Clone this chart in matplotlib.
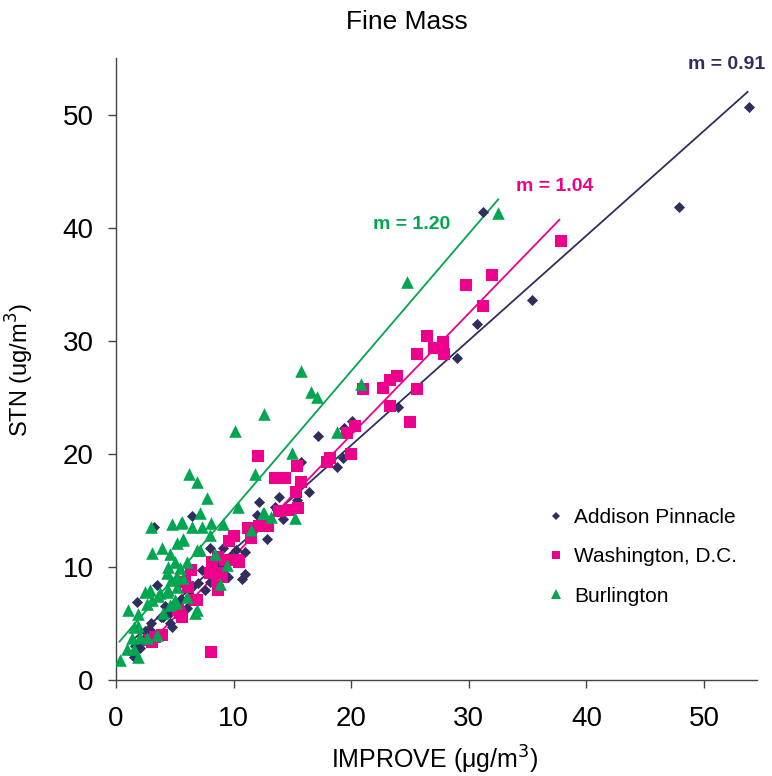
import numpy as np
import matplotlib
matplotlib.use('Agg')
import matplotlib.pyplot as plt

# site data (IMPROVE x, STN y)
addison_x = [53.8, 47.9, 35.4, 31.2, 30.7, 29.0, 24.0,
             20.1, 19.4, 17.2, 19.3, 18.8, 15.7, 16.4, 15.4, 13.9, 13.5, 14.2,
             12.2, 12.0, 13.7, 12.8, 6.5, 8.0, 9.1, 11.0,
             3.2, 11.0, 10.7, 9.5, 8.0, 7.3, 7.6, 3.5, 1.8, 6.0, 4.6, 4.8, 1.5, 2.0,
             5.4, 4.2, 2.9, 4.6,
             3.0, 3.8, 5.0, 5.5, 6.5, 7.0, 8.5, 9.0, 9.8, 10.2, 2.5, 4.0, 6.3, 1.6, 2.3]
addison_y = [50.7, 41.8, 33.6, 41.4, 31.5, 28.5, 24.1,
             22.9, 22.3, 21.6, 19.6, 18.8, 19.3, 16.6, 15.9, 16.2, 15.3, 14.2,
             15.7, 14.6, 15.0, 12.5, 14.5, 11.7, 11.7, 11.3,
             13.5, 9.4, 8.9, 9.1, 8.7, 9.7, 8.0, 8.4, 6.9, 6.4, 5.0, 4.7, 2.0, 2.8,
             8.6, 6.5, 4.4, 5.9,
             5.0, 5.6, 6.8, 7.2, 8.2, 8.6, 10.0, 10.3, 11.0, 11.5, 4.3, 5.6, 7.5, 3.0, 3.5]

washington_x = [37.8, 32.0, 29.8, 31.2, 26.4, 27.8, 27.0, 27.9, 25.6, 23.9, 23.3, 22.7, 25.6, 23.3, 25.0,
                21.0, 20.3, 19.6, 20.0, 17.9, 18.2, 15.4, 12.1, 13.5, 14.4, 15.7, 15.3, 15.5, 14.8, 13.9,
                12.9, 12.2, 11.2, 11.5, 10.0, 9.6,
                8.2, 10.3, 8.0, 9.0, 8.6, 6.4, 5.9, 6.7, 5.3, 5.4, 3.9, 2.9, 8.1,
                8.7, 9.3, 10.5, 8.8, 8.7, 6.1, 5.6, 3.1, 3.3, 6.9]
washington_y = [38.8, 35.8, 34.9, 33.1, 30.4, 29.9, 29.4, 28.8, 28.8, 26.9, 26.5, 25.8, 25.7, 24.2, 22.8,
                25.7, 22.5, 21.8, 20.0, 19.3, 19.6, 18.9, 19.8, 17.9, 17.9, 17.5, 16.6, 15.2, 15.0, 14.9,
                13.6, 13.6, 13.4, 12.6, 12.7, 12.3,
                10.4, 10.6, 9.5, 9.1, 8.8, 9.7, 8.7, 7.1, 6.2, 5.9, 4.0, 3.5, 2.5,
                10.9, 10.6, 10.4, 9.5, 8.0, 8.2, 5.6, 3.4, 3.8, 7.1]

burlington_x = [32.5, 24.7, 20.8, 15.7, 16.6, 17.1, 12.6, 10.1, 18.8, 15.0, 11.8, 6.2, 6.9, 7.7, 10.4,
                7.1, 8.1, 9.1, 6.5, 7.3, 5.6, 5.7, 8.0, 12.6, 15.2, 11.5, 12.5, 13.2,
                3.0, 4.8, 5.5, 3.9, 5.2, 5.7, 3.1, 4.6, 5.0, 6.0, 6.9, 4.3, 4.4, 5.4, 5.7, 4.7, 5.2,
                2.5, 2.9, 3.1, 3.6, 4.3, 5.0, 4.6, 1.0, 1.9, 6.7, 8.8, 9.4, 8.4, 1.5, 1.4, 0.9, 0.3,
                1.9, 3.5, 2.0, 2.6, 2.6, 3.7, 4.4, 5.2, 4.0, 5.1, 6.0, 1.9, 1.5, 7.1, 6.9]
burlington_y = [41.3, 35.2, 26.2, 27.3, 25.5, 25.0, 23.5, 22.0, 21.9, 20.1, 18.2, 18.2, 17.5, 16.1, 15.3,
                14.8, 13.9, 13.8, 13.5, 13.5, 14.0, 12.5, 12.8, 14.8, 14.3, 13.3, 14.8, 14.4,
                13.5, 13.8, 13.9, 11.7, 12.1, 12.4, 11.2, 11.1, 10.4, 10.4, 11.5, 9.5, 10.0, 9.9, 9.0, 8.8, 9.1,
                7.8, 8.0, 7.1, 7.4, 7.8, 7.1, 6.6, 6.2, 5.8, 5.9, 8.5, 10.2, 11.1, 4.7, 3.7, 2.7, 1.8,
                2.0, 4.0, 3.8, 3.7, 6.7, 7.7, 8.0, 8.2, 5.9, 6.8, 7.3, 4.8, 2.7, 11.5, 6.2]

# trend line endpoints (x range) and fitted y at those ends
addison_fit_x = [1.6, 53.7]
addison_fit_y = [3.7, 52.0]
washington_fit_x = [2.9, 37.7]
washington_fit_y = [3.3, 40.7]
burlington_fit_x = [0.3, 32.5]
burlington_fit_y = [3.4, 42.5]

slope_labels = ['m = 0.91', 'm = 1.04', 'm = 1.20']
site_names = ['Addison Pinnacle', 'Washington, D.C.', 'Burlington']

navy = '#2f2f5f'
pink = '#ec008c'
green = '#00a650'

plt.rcParams['font.family'] = ['Liberation Sans', 'DejaVu Sans']

fig = plt.figure(figsize=(7.72, 7.76), dpi=100)
ax = fig.add_axes([116/772, 1-680/776, 641/772, 622/776])

ax.plot(addison_fit_x, addison_fit_y, color=navy, lw=1.3, zorder=1)
ax.plot(washington_fit_x, washington_fit_y, color=pink, lw=1.3, zorder=1)
ax.plot(burlington_fit_x, burlington_fit_y, color=green, lw=1.3, zorder=1)

ax.scatter(addison_x, addison_y, marker='D', s=32, color=navy, linewidths=0, zorder=2)
ax.scatter(washington_x, washington_y, marker='s', s=64, color=pink, linewidths=0, zorder=3)
ax.scatter(burlington_x, burlington_y, marker='^', s=82, color=green, linewidths=0, zorder=4)

# legend handles with small markers
h1, = ax.plot([], [], 'D', color=navy, ms=4.5, mew=0)
h2, = ax.plot([], [], 's', color=pink, ms=6, mew=0)
h3, = ax.plot([], [], '^', color=green, ms=7, mew=0)
ax.legend([h1, h2, h3], site_names, loc='upper left', bbox_to_anchor=(0.66, 0.29),
          frameon=False, fontsize=15, handlelength=0.8, handletextpad=0.5,
          labelspacing=0.98, borderaxespad=0)

ax.text(51.9, 54.4, slope_labels[0], color=navy, fontsize=14, fontweight='bold',
        ha='center', va='center')
ax.text(37.3, 43.6, slope_labels[1], color=pink, fontsize=14, fontweight='bold',
        ha='center', va='center')
ax.text(25.1, 40.3, slope_labels[2], color=green, fontsize=14, fontweight='bold',
        ha='center', va='center')

ax.set_xlim(0, 54.5)
ax.set_ylim(0, 55)
ax.set_xticks([0, 10, 20, 30, 40, 50])
ax.set_yticks([0, 10, 20, 30, 40, 50])
for s in ['top', 'right']:
    ax.spines[s].set_visible(False)
for s in ['left', 'bottom']:
    ax.spines[s].set_color('#444444')
    ax.spines[s].set_linewidth(1.0)
ax.tick_params(axis='both', direction='out', length=6, width=1.0, color='#444444',
               labelsize=20)
ax.tick_params(axis='x', pad=13)
ax.tick_params(axis='y', pad=10)

fig.text(407/772, 1-22/776, 'Fine Mass', ha='center', va='center', fontsize=19)
fig.text(20/772, 1-370/776, 'STN (ug/m$^3$)', ha='center', va='center', rotation=90,
         fontsize=17)
fig.text(435/772, 1-760/776, 'IMPROVE (\u03bcg/m$^3$)', ha='center', va='center',
         fontsize=18)

fig.savefig('out.png', dpi=100)
